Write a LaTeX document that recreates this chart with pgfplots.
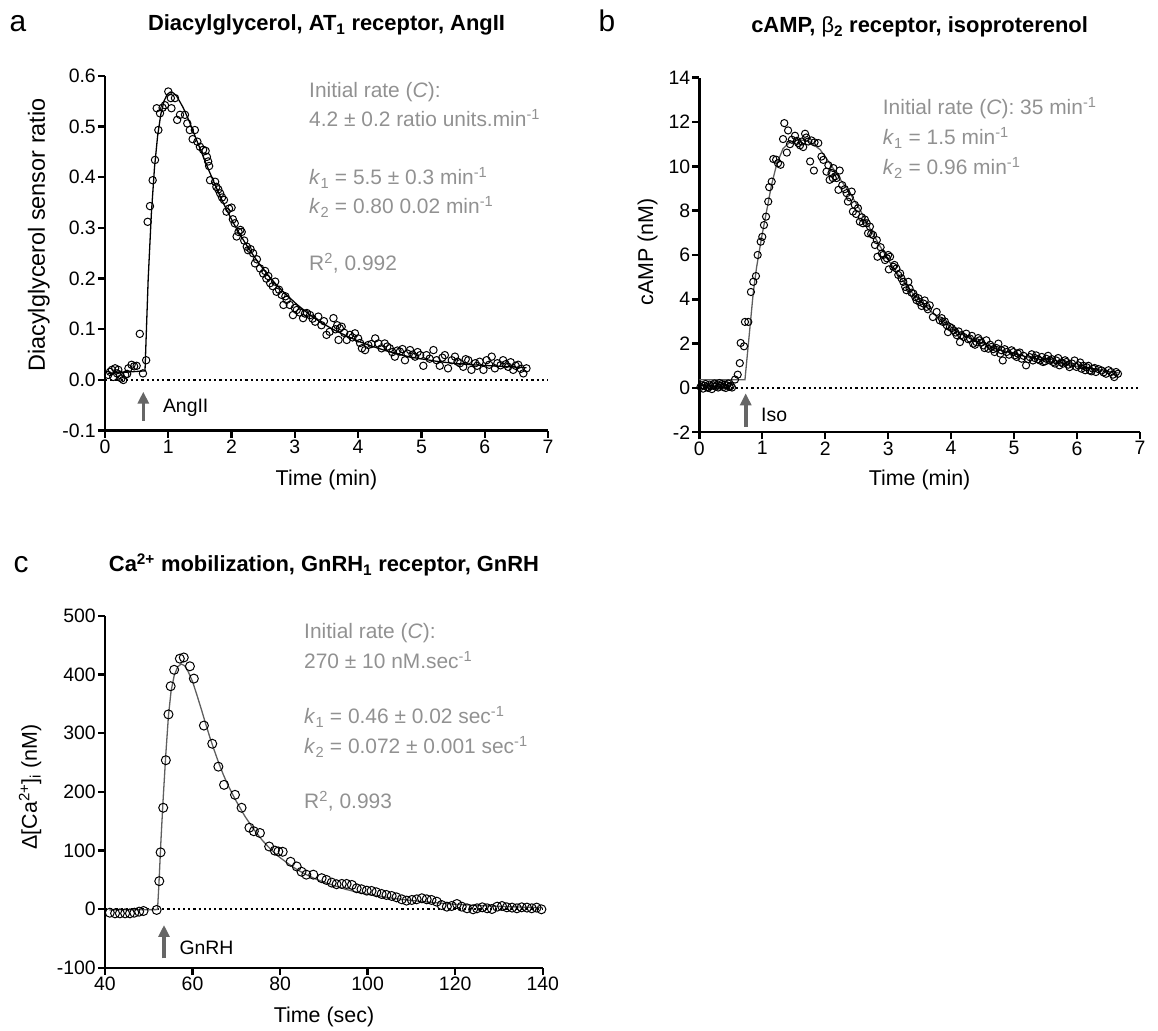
\documentclass[border=0pt]{standalone}
\usepackage{fontspec}
\setmainfont{Liberation Sans}
\usepackage{pgfplots}
\pgfplotsset{compat=1.18}
\usetikzlibrary{arrows.meta}

\definecolor{annogray}{RGB}{145,145,145}
\definecolor{arrowgray}{RGB}{102,102,102}
\definecolor{fitgray}{RGB}{95,95,95}

\pgfplotsset{
  panel/.style={
    scale only axis, anchor=south west, clip=false,
    axis x line=bottom, axis y line=left,
    axis line style={-, line width=2.4bp},
    every tick/.style={black, line width=2.4bp},
    major tick length=7bp, tick align=outside,
    tick label style={font=\fontsize{19.5}{22}\selectfont, inner sep=2bp},
    /pgf/number format/assume math mode=true,
  },
  dots/.style={only marks, mark=o, mark size=#1,
               mark options={line width=1bp, draw=black}},
  dots/.default=3.7bp,
  zeroline/.style={black, line width=2.2bp, dash pattern=on 2.2bp off 3bp, forget plot},
}
\tikzset{
  anno/.style={anchor=base west, text=annogray, inner sep=0pt, font=\fontsize{21}{25}\selectfont},
  ttl/.style={anchor=base, inner sep=0pt, font=\bfseries\fontsize{22}{26}\selectfont},
  letter/.style={anchor=base, inner sep=0pt, font=\fontsize{30}{34}\selectfont},
  lab/.style={inner sep=0pt, font=\fontsize{21.5}{25}\selectfont},
  stim/.style={arrowgray, line width=3.6bp, -{Triangle[width=11bp,length=12bp]}},
  stimlab/.style={anchor=base west, inner sep=0pt, font=\fontsize{19.5}{22}\selectfont},
}

\begin{document}
\begin{tikzpicture}[x=1bp,y=1bp]
\useasboundingbox (0,0) rectangle (1158,1031);

% ---------------- panel a ----------------
\begin{axis}[panel, at={(105bp,600.3bp)}, width=443bp, height=354.9bp,
  xmin=0, xmax=7, ymin=-0.1, ymax=0.6,
  xtick={0,1,2,3,4,5,6,7}, ytick={-0.1,0,0.1,0.2,0.3,0.4,0.5,0.6},
  yticklabel style={/pgf/number format/.cd, fixed, fixed zerofill, precision=1}]
\addplot[zeroline] coordinates {(0,0) (7,0)};
\addplot[black, line width=1.3bp, no marks] coordinates {
(0.05,0.013) (0.632,0.018) (0.682,0.198) (0.732,0.327) (0.782,0.419) (0.832,0.482)
(0.882,0.524) (0.932,0.550) (0.982,0.563) (1.032,0.568) (1.082,0.566) (1.132,0.560)
(1.232,0.538) (1.332,0.510) (1.432,0.478) (1.532,0.447) (1.632,0.416) (1.732,0.387)
(1.832,0.359) (1.932,0.333) (2.032,0.309) (2.132,0.287) (2.232,0.267) (2.332,0.248)
(2.432,0.230) (2.532,0.214) (2.632,0.198) (2.832,0.172) (3.032,0.149) (3.232,0.129)
(3.432,0.112) (3.632,0.098) (3.832,0.086) (4.032,0.075) (4.232,0.066) (4.432,0.058)
(4.632,0.051) (4.832,0.045) (5.032,0.041) (5.232,0.037) (5.5,0.033) (5.8,0.030)
(6.1,0.028) (6.4,0.026) (6.66,0.024)};
\addplot[dots] coordinates {
(0.05,0.010) (0.08,0.016) (0.11,0.020) (0.13,0.006) (0.16,0.023) (0.19,0.013)
(0.21,0.020) (0.24,0.010) (0.26,0.003) (0.29,0.000) (0.32,0.010) (0.35,0.012)
(0.37,0.023) (0.42,0.030) (0.46,0.027) (0.50,0.028) (0.55,0.091) (0.60,0.013)
(0.65,0.039) (0.674,0.312) (0.711,0.343) (0.753,0.394) (0.79,0.434) (0.817,0.536)
(0.843,0.493) (0.869,0.526) (0.91,0.537) (0.948,0.542) (1.0,0.569) (1.04,0.556)
(1.05,0.536) (1.106,0.556) (1.14,0.513) (1.185,0.523) (1.264,0.523) (1.30,0.506)
(1.34,0.493) (1.385,0.475) (1.42,0.493) (1.46,0.470) (1.50,0.460) (1.55,0.454)
(1.59,0.452) (1.61,0.440) (1.63,0.431) (1.645,0.422) (1.66,0.394) (1.74,0.391)
(1.76,0.381) (1.79,0.376) (1.82,0.368) (1.85,0.360) (1.88,0.355) (1.92,0.332)
(1.96,0.338) (2.00,0.340) (2.02,0.317) (2.05,0.309) (2.08,0.283) (2.11,0.292)
(2.14,0.296) (2.16,0.292) (2.20,0.275) (2.24,0.263) (2.26,0.256) (2.30,0.258)
(2.34,0.250) (2.37,0.230) (2.40,0.238) (2.45,0.220) (2.50,0.210) (2.53,0.215)
(2.55,0.200) (2.58,0.205) (2.61,0.191) (2.65,0.185) (2.69,0.194) (2.71,0.174)
(2.75,0.178) (2.79,0.168) (2.82,0.148) (2.85,0.165) (2.87,0.158) (2.92,0.148)
(2.97,0.128) (3.00,0.142) (3.03,0.138) (3.08,0.133) (3.13,0.122) (3.16,0.131)
(3.19,0.132) (3.24,0.128) (3.28,0.121) (3.32,0.115) (3.37,0.125) (3.42,0.108)
(3.46,0.116) (3.50,0.089) (3.55,0.095) (3.61,0.122) (3.64,0.100) (3.67,0.108)
(3.69,0.079) (3.71,0.102) (3.74,0.105) (3.78,0.093) (3.82,0.079) (3.87,0.089)
(3.91,0.084) (3.95,0.092) (4.00,0.082) (4.03,0.073) (4.06,0.0625) (4.11,0.059)
(4.16,0.069) (4.21,0.071) (4.27,0.082) (4.32,0.072) (4.37,0.0625) (4.42,0.072)
(4.46,0.066) (4.50,0.0625) (4.54,0.055) (4.58,0.046) (4.62,0.058) (4.66,0.056)
(4.70,0.061) (4.74,0.039) (4.78,0.052) (4.82,0.059) (4.86,0.050) (4.90,0.046)
(4.94,0.055) (4.98,0.049) (5.03,0.028) (5.08,0.049) (5.13,0.042) (5.19,0.059)
(5.24,0.039) (5.29,0.028) (5.33,0.044) (5.37,0.049) (5.42,0.023) (5.48,0.039)
(5.53,0.046) (5.57,0.036) (5.61,0.033) (5.66,0.026) (5.70,0.041) (5.74,0.039)
(5.79,0.020) (5.85,0.033) (5.88,0.028) (5.92,0.036) (5.98,0.020) (6.03,0.039)
(6.07,0.030) (6.11,0.046) (6.16,0.023) (6.20,0.033) (6.25,0.029) (6.29,0.039)
(6.33,0.031) (6.37,0.026) (6.41,0.035) (6.45,0.020) (6.49,0.028) (6.53,0.030)
(6.57,0.022) (6.61,0.013) (6.66,0.023)};
\end{axis}

% ---------------- panel b ----------------
\begin{axis}[panel, at={(699.3bp,598.7bp)}, width=440.7bp, height=354.6bp,
  xmin=0, xmax=7, ymin=-2, ymax=14,
  xtick={0,1,2,3,4,5,6,7}, ytick={-2,0,2,4,6,8,10,12,14}]
\addplot[zeroline] coordinates {(0,0) (7,0)};
\addplot[fitgray, line width=1.3bp, no marks] coordinates {
(0.00,0.37) (0.725,0.37) (0.857,4.30) (0.91,5.45) (0.99,6.8) (1.07,8.0) (1.15,9.2)
(1.23,10.1) (1.33,10.8) (1.44,11.1) (1.60,11.2) (1.76,11.1) (1.92,10.75) (2.07,10.15)
(2.23,9.45) (2.39,8.8) (2.55,8.05) (2.71,7.2) (2.87,6.4) (3.03,5.65) (3.19,5.0)
(3.34,4.42) (3.50,3.95) (3.70,3.4) (3.90,2.95) (4.10,2.55) (4.30,2.25) (4.50,2.0)
(4.70,1.8) (4.90,1.62) (5.10,1.47) (5.30,1.34) (5.50,1.23) (5.70,1.12) (5.90,1.02)
(6.10,0.93) (6.30,0.84) (6.50,0.75) (6.66,0.68)};
\addplot[dots=3.6bp] coordinates {
(0.02,0.05) (0.04,0.12) (0.06,-0.03) (0.08,0.10) (0.10,0.18) (0.12,0.04) (0.14,0.00)
(0.16,0.15) (0.18,0.08) (0.20,-0.05) (0.22,0.12) (0.24,0.20) (0.26,0.06) (0.28,0.14)
(0.30,0.02) (0.32,0.22) (0.34,0.10) (0.36,0.18) (0.38,0.04) (0.40,0.15) (0.42,0.00)
(0.44,0.12) (0.46,0.20) (0.48,0.05) (0.50,0.10) (0.52,0.02) (0.567,0.38) (0.61,0.60)
(0.643,1.12) (0.657,2.03) (0.71,1.88) (0.725,2.98) (0.778,2.98) (0.82,4.33) (0.857,4.79)
(0.90,5.05) (0.927,6.00) (0.975,6.60) (1.00,6.82) (1.027,7.35) (1.06,7.73) (1.095,8.41)
(1.11,9.06) (1.15,9.31) (1.175,10.33) (1.22,10.30) (1.25,10.14) (1.29,10.07) (1.33,11.23)
(1.35,11.95) (1.39,10.62) (1.41,11.62) (1.44,11.0) (1.47,11.20) (1.52,11.38) (1.55,11.15)
(1.57,11.05) (1.60,10.95) (1.63,11.12) (1.65,10.87) (1.68,11.47) (1.70,11.30) (1.73,11.12)
(1.76,10.22) (1.78,11.17) (1.82,9.81) (1.83,11.08) (1.89,11.05) (1.94,10.44) (1.97,10.29)
(2.02,9.76) (2.05,10.05) (2.07,9.39) (2.10,9.70) (2.12,9.47) (2.13,9.92) (2.16,9.55)
(2.18,9.47) (2.21,8.94) (2.23,9.81) (2.27,9.15) (2.31,8.97) (2.34,8.79) (2.36,8.41)
(2.39,8.60) (2.42,8.86) (2.44,7.96) (2.47,8.26) (2.49,7.85) (2.52,8.11) (2.55,7.50)
(2.58,7.70) (2.60,7.43) (2.63,7.60) (2.66,7.43) (2.68,6.98) (2.71,7.28) (2.73,6.95)
(2.76,6.90) (2.79,6.45) (2.82,6.67) (2.83,5.92) (2.88,6.35) (2.90,6.07) (2.92,6.00)
(2.95,5.77) (2.98,5.85) (3.00,6.00) (3.01,5.35) (3.03,5.92) (3.08,5.47) (3.10,5.55)
(3.13,5.39) (3.16,5.10) (3.19,5.17) (3.21,4.95) (3.24,4.79) (3.27,4.56) (3.29,4.41)
(3.32,4.79) (3.34,4.49) (3.37,4.30) (3.40,4.26) (3.43,4.10) (3.45,3.96) (3.48,4.05)
(3.50,3.88) (3.53,3.70) (3.56,3.81) (3.58,3.95) (3.61,3.66) (3.63,3.55) (3.66,3.73)
(3.71,3.20) (3.77,3.43) (3.82,3.05) (3.85,3.15) (3.87,2.98) (3.90,3.00) (3.93,2.83)
(3.95,2.52) (3.98,2.75) (4.01,2.70) (4.04,2.60) (4.07,2.50) (4.09,2.38) (4.12,2.55)
(4.14,2.07) (4.16,2.38) (4.20,2.30) (4.24,2.45) (4.27,2.20) (4.30,2.23) (4.33,2.35)
(4.35,2.00) (4.38,1.95) (4.40,2.07) (4.43,2.25) (4.45,2.15) (4.48,2.05) (4.51,1.92)
(4.53,1.80) (4.56,2.15) (4.59,1.77) (4.62,1.95) (4.64,1.85) (4.67,1.75) (4.69,1.62)
(4.72,1.80) (4.75,2.00) (4.78,1.55) (4.80,1.70) (4.82,1.24) (4.85,1.75) (4.88,1.62)
(4.92,1.50) (4.96,1.70) (4.99,1.62) (5.01,1.47) (5.04,1.40) (5.06,1.55) (5.09,1.60)
(5.12,1.32) (5.15,1.45) (5.19,1.02) (5.22,1.30) (5.25,1.39) (5.28,1.52) (5.30,1.24)
(5.33,1.35) (5.35,1.47) (5.38,1.30) (5.41,1.24) (5.44,1.40) (5.46,1.17) (5.49,1.20)
(5.51,1.32) (5.54,1.45) (5.57,1.24) (5.60,1.30) (5.62,1.17) (5.65,1.10) (5.67,1.24)
(5.70,1.35) (5.72,1.02) (5.75,1.15) (5.78,1.10) (5.81,1.25) (5.83,1.17) (5.86,1.05)
(5.88,0.94) (5.92,1.10) (5.96,1.24) (5.99,0.95) (6.02,1.02) (6.05,1.15) (6.07,0.87)
(6.10,1.00) (6.13,0.80) (6.15,0.94) (6.18,1.00) (6.20,0.79) (6.23,0.75) (6.25,0.87)
(6.28,0.90) (6.30,0.72) (6.34,0.85) (6.39,0.79) (6.42,0.70) (6.46,0.64) (6.50,0.80)
(6.54,0.72) (6.57,0.60) (6.59,0.49) (6.62,0.72) (6.65,0.64)};
\end{axis}

% ---------------- panel c ----------------
\begin{axis}[panel, at={(105bp,63bp)}, width=437.7bp, height=352.2bp,
  xmin=40, xmax=140, ymin=-100, ymax=500,
  xtick={40,60,80,100,120,140}, ytick={-100,0,100,200,300,400,500}]
\addplot[zeroline] coordinates {(40,0) (140,0)};
\addplot[fitgray, line width=1.3bp, no marks] coordinates {
(41,-1) (52.0,-0.5) (52.3,40) (52.8,120) (53.3,190) (53.9,265) (54.5,330) (55.1,372)
(55.8,398) (56.6,413) (57.4,418) (58.2,415) (59.0,405) (60.0,388) (61.0,365) (62.0,341)
(63.0,316) (64.0,292) (65.0,270) (66.0,249) (67.0,230) (68.0,213) (69.0,198) (70.0,184)
(72.0,158) (74.0,136) (76.0,117) (78.0,101) (80.0,88) (82.0,77) (84.0,67) (86.0,59)
(88.0,52) (90.0,46) (92.5,40) (95.0,34) (97.5,29.5) (100.0,25.5) (105.0,19.5)
(110.0,15) (115.0,11.5) (120.0,8.5) (125.0,6.5) (130.0,5) (135.0,3.8) (140.0,2.8)};
\addplot[dots=4.5bp] coordinates {
(41.1,-5.8) (42.3,-6.9) (43.4,-6.9) (44.6,-6.9) (45.7,-6.9) (46.7,-5.8) (47.8,-4.0)
(48.8,-2.9) (51.8,-1.1) (52.4,48) (52.7,97) (53.3,173) (53.9,254) (54.5,332) (55.0,380)
(55.8,408) (57.1,427) (58.0,429) (59.4,414) (60.3,393) (62.6,313) (64.5,282) (65.9,243)
(67.2,212) (69.7,195) (71.2,173) (73.0,139) (74.0,133) (75.4,130) (77.5,107) (78.8,100)
(79.6,98.5) (80.6,98) (82.4,81) (83.8,73) (84.9,64) (86.0,59) (87.6,59) (89.5,53)
(90.6,50) (91.8,45.5) (92.9,42.7) (94.1,43.2) (95.2,43.2) (96.4,41.5) (97.5,35.8)
(98.6,34.1) (99.8,31.8) (100.9,31.3) (102.0,29) (103.2,26.1) (104.3,24.4) (105.5,22.7)
(106.6,20.4) (107.8,17) (108.9,14.8) (110.1,15.9) (111.2,17) (112.4,18.8) (113.5,17)
(114.6,15.9) (115.8,13) (116.9,7.3) (118.1,4.5) (119.2,5.6) (120.4,9) (121.5,4.5)
(122.7,1.7) (124.1,0) (125.0,1.7) (126.2,3.4) (127.3,1.7) (128.4,0.5) (129.6,4.5)
(130.7,5.6) (131.8,3.4) (133.0,2.9) (134.1,1.7) (135.2,3.4) (136.4,2.9) (137.5,1.7)
(138.6,2.9) (139.7,0)};
\end{axis}

% ---------------- text and stimulus arrows ----------------
\node[letter] at (18,999) {a};
\node[letter] at (607,999) {b};
\node[letter] at (21,458) {c};

\node[ttl] at (326.5,1000) {Diacylglycerol, AT\textsubscript{1} receptor, AngII};
\node[ttl] at (919.6,998) {cAMP, \textmd{β}\textsubscript{2} receptor, isoproterenol};
\node[ttl] at (324,459) {Ca\textsuperscript{2+} mobilization, GnRH\textsubscript{1} receptor, GnRH};

\node[lab, rotate=90, font=\fontsize{23.5}{27}\selectfont] at (38.8,796) {Diacylglycerol sensor ratio};
\node[lab, rotate=90] at (647.5,779) {cAMP (nM)};
\node[lab, rotate=90] at (30,244) {Δ[Ca\textsuperscript{2+}]\textsubscript{i} (nM)};

\node[lab, anchor=base] at (326.5,545) {Time (min)};
\node[lab, anchor=base] at (919.6,545) {Time (min)};
\node[lab, anchor=base] at (324,8) {Time (sec)};

\node[anno] at (309,933) {Initial rate (\textit{C}):};
\node[anno] at (309,904) {4.2 ± 0.2 ratio units.min\textsuperscript{-1}};
\node[anno] at (309,846) {\textit{k}\textsubscript{1} = 5.5 ± 0.3 min\textsuperscript{-1}};
\node[anno] at (309,817) {\textit{k}\textsubscript{2} = 0.80 0.02 min\textsuperscript{-1}};
\node[anno] at (309,760) {R\textsuperscript{2}, 0.992};

\node[anno] at (882.7,916) {Initial rate (\textit{C}): 35 min\textsuperscript{-1}};
\node[anno] at (882.7,886) {\textit{k}\textsubscript{1} = 1.5 min\textsuperscript{-1}};
\node[anno] at (882.7,856) {\textit{k}\textsubscript{2} = 0.96 min\textsuperscript{-1}};

\node[anno] at (304,392) {Initial rate (\textit{C}):};
\node[anno] at (304,362) {270 ± 10 nM.sec\textsuperscript{-1}};
\node[anno] at (304,307) {\textit{k}\textsubscript{1} = 0.46 ± 0.02 sec\textsuperscript{-1}};
\node[anno] at (304,277) {\textit{k}\textsubscript{2} = 0.072 ± 0.001 sec\textsuperscript{-1}};
\node[anno] at (304,222) {R\textsuperscript{2}, 0.993};

\draw[stim] (143.3,610.3) -- (143.3,639.3);
\node[stimlab] at (162.8,618.7) {AngII};
\draw[stim] (745.7,604.3) -- (745.7,637.7);
\node[stimlab] at (761,609.3) {Iso};
\draw[stim] (164,72.7) -- (164,106);
\node[stimlab] at (179.3,76) {GnRH};
\end{tikzpicture}
\end{document}
